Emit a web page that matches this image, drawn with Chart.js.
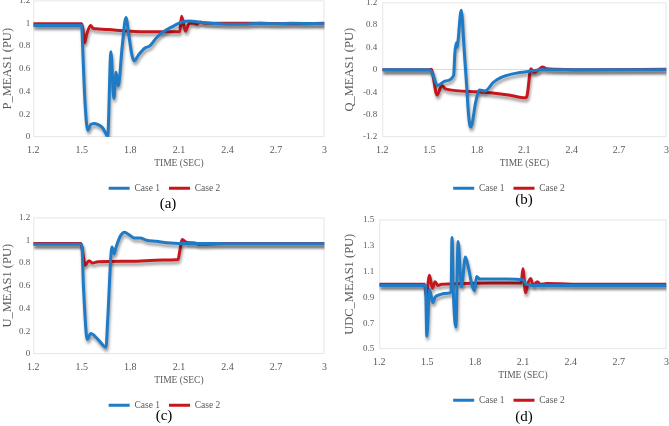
<!DOCTYPE html>
<html>
<head>
<meta charset="utf-8">
<script src="https://cdn.jsdelivr.net/npm/chart.js@4.4.0/dist/chart.umd.min.js"></script>
<style>
  body { margin: 0; background: #fff; width: 669px; height: 426px; position: relative; overflow: hidden; }
  .panel { position: absolute; }
  .cap { position: absolute; font-family: "Liberation Serif", serif; font-size: 15px; color: #000; text-align: center; width: 40px; }
</style>
</head>
<body>
<div class="panel" style="left:0;top:-8px"><canvas id="chartA" width="334" height="211"></canvas></div>
<div class="panel" style="left:334px;top:-8px"><canvas id="chartB" width="342" height="211"></canvas></div>
<div class="panel" style="left:0;top:209px"><canvas id="chartC" width="334" height="211"></canvas></div>
<div class="panel" style="left:334px;top:209px"><canvas id="chartD" width="342" height="206"></canvas></div>
<div class="cap" style="left:148px;top:195px">(a)</div>
<div class="cap" style="left:504px;top:191px">(b)</div>
<div class="cap" style="left:144px;top:407px">(c)</div>
<div class="cap" style="left:504px;top:408px">(d)</div>

<script>
const xTicks = [1.2, 1.5, 1.8, 2.1, 2.4, 2.7, 3];
const seriesNames = ["Case 1", "Case 2"];

// (a) P_MEAS1
const aTime1 = [1.2, 1.5, 1.505, 1.52, 1.537, 1.555, 1.575, 1.6, 1.63, 1.66, 1.68, 1.698, 1.712, 1.725, 1.75, 1.773, 1.79, 1.81, 1.825, 1.85, 1.888, 1.92, 1.96, 2.0, 2.06, 2.12, 2.17, 2.22, 2.3, 2.4, 2.5, 2.6, 2.7, 2.8, 3.0];
const aCase1 = [0.98, 0.98, 0.8, 0.3, 0.06, 0.11, 0.12, 0.11, 0.08, 0.01, 0.75, 0.34, 0.57, 0.45, 0.8, 1.05, 0.9, 0.72, 0.67, 0.72, 0.78, 0.8, 0.87, 0.92, 0.97, 1.01, 1.02, 1.01, 1.0, 0.99, 0.99, 1.0, 0.995, 1.0, 0.995];
const aTime2 = [1.2, 1.5, 1.508, 1.517, 1.53, 1.554, 1.57, 1.6, 1.7, 1.8, 1.9, 2.0, 2.105, 2.117, 2.14, 2.165, 2.19, 2.21, 2.23, 2.26, 2.4, 2.6, 2.8, 3.0];
const aCase2 = [0.995, 0.995, 0.93, 0.83, 0.9, 0.98, 0.955, 0.95, 0.94, 0.93, 0.925, 0.925, 0.925, 1.06, 0.93, 1.0, 1.0, 0.99, 1.01, 1.0, 1.0, 1.0, 0.995, 1.0];
const aYTicks = [0, 0.2, 0.4, 0.6, 0.8, 1, 1.2];

// (b) Q_MEAS1
const bTime1 = [1.2, 1.5, 1.515, 1.55, 1.6, 1.652, 1.66, 1.669, 1.674, 1.68, 1.7, 1.72, 1.735, 1.745, 1.758, 1.77, 1.79, 1.817, 1.85, 1.905, 1.95, 1.99, 2.05, 2.1, 2.15, 2.2, 2.4, 2.6, 3.0];
const bCase1 = [0.0, 0.0, -0.05, -0.28, -0.2, -0.1, 0.3, 0.48, 0.4, 0.52, 1.06, 0.3, -0.3, -0.75, -1.02, -0.95, -0.6, -0.36, -0.38, -0.22, -0.14, -0.1, -0.06, -0.04, -0.02, 0.0, 0.0, 0.0, 0.0];
const bTime2 = [1.2, 1.5, 1.51, 1.547, 1.578, 1.6, 1.8, 2.0, 2.106, 2.117, 2.142, 2.16, 2.19, 2.214, 2.24, 2.3, 2.5, 3.0];
const bCase2 = [0.0, 0.0, 0.01, -0.45, -0.28, -0.34, -0.39, -0.45, -0.5, -0.46, 0.02, -0.05, 0.0, 0.05, 0.02, 0.01, 0.0, 0.01];
const bYTicks = [-1.2, -0.8, -0.4, 0, 0.4, 0.8, 1.2];

// (c) U_MEAS1
const cTime1 = [1.2, 1.5, 1.51, 1.534, 1.555, 1.6, 1.65, 1.66, 1.687, 1.7, 1.712, 1.74, 1.765, 1.79, 1.825, 1.86, 1.9, 1.96, 2.05, 2.15, 2.3, 2.5, 3.0];
const cCase1 = [0.964, 0.964, 0.6, 0.13, 0.18, 0.13, 0.06, 0.3, 0.94, 0.88, 0.94, 1.04, 1.07, 1.05, 1.02, 1.02, 1.0, 0.99, 0.975, 0.97, 0.97, 0.968, 0.968];
const cTime2 = [1.2, 1.495, 1.51, 1.52, 1.545, 1.565, 1.6, 1.8, 2.0, 2.095, 2.105, 2.12, 2.15, 2.2, 2.22, 2.4, 3.0];
const cCase2 = [0.97, 0.97, 0.85, 0.78, 0.82, 0.8, 0.81, 0.815, 0.825, 0.83, 0.9, 1.005, 0.98, 0.975, 0.965, 0.97, 0.97];
const cYTicks = [0, 0.2, 0.4, 0.6, 0.8, 1, 1.2];

// (d) UDC_MEAS1
const dTime1 = [1.2, 1.49, 1.498, 1.515, 1.536, 1.55, 1.58, 1.63, 1.65, 1.656, 1.664, 1.68, 1.694, 1.715, 1.74, 1.76, 1.78, 1.797, 1.81, 1.83, 1.9, 2.0, 2.1, 2.12, 2.2, 2.5, 3.0];
const dCase1 = [0.99, 0.99, 0.6, 0.96, 0.86, 0.9, 0.92, 0.93, 0.94, 1.36, 0.95, 0.67, 1.33, 0.98, 1.21, 1.12, 1.0, 0.95, 1.06, 1.04, 1.04, 1.04, 1.035, 1.0, 0.99, 0.99, 0.99];
const dTime2 = [1.2, 1.485, 1.494, 1.515, 1.533, 1.55, 1.567, 1.59, 1.7, 1.9, 2.09, 2.1, 2.117, 2.13, 2.149, 2.165, 2.19, 2.21, 2.25, 2.5, 3.0];
const dCase2 = [1.0, 1.0, 0.91, 1.07, 0.97, 1.02, 0.99, 1.0, 1.005, 1.01, 1.01, 1.12, 0.935, 1.0, 1.045, 0.99, 1.02, 1.0, 1.005, 1.0, 1.0];
const dYTicks = [0.5, 0.7, 0.9, 1.1, 1.3, 1.5];

const BLUE = "#1f7bc6";
const RED = "#c8171c";
const TXT = "#595959";
const FONT = "'Liberation Serif', 'Times New Roman', serif";

// Excel-like drop shadow under the lines + faint plot frame
const shadowPlugin = {
  id: "shadow",
  beforeDraw(chart) {
    const a = chart.chartArea, ctx = chart.ctx;
    ctx.save();
    ctx.strokeStyle = "#e6e6e6";
    ctx.lineWidth = 1;
    ctx.strokeRect(a.left + 0.5, a.top + 0.5, a.right - a.left - 1, a.bottom - a.top - 1);
    ctx.restore();
  },
  beforeDatasetDraw(chart) {
    const ctx = chart.ctx;
    ctx.save();
    ctx.shadowColor = "rgba(0,0,0,0.4)";
    ctx.shadowBlur = 3;
    ctx.shadowOffsetX = 1;
    ctx.shadowOffsetY = 3;
  },
  afterDatasetDraw(chart) {
    chart.ctx.restore();
  }
};

function pts(xs, ys) {
  return xs.map((x, i) => ({ x: x, y: ys[i] }));
}

function makePanel(id, yTitle, t1, v1, t2, v2, yTicks, pad, yTickPad, zeroLine) {
  const ctx = document.getElementById(id).getContext("2d");
  const line = (label, data, color) => ({
    label: label, data: data, borderColor: color, backgroundColor: color,
    borderWidth: 3, pointRadius: 0, pointStyle: "line",
    cubicInterpolationMode: "monotone"
  });
  return new Chart(ctx, {
    type: "line",
    data: {
      datasets: [
        line(seriesNames[0], pts(t1, v1), BLUE),
        line(seriesNames[1], pts(t2, v2), RED)
      ]
    },
    options: {
      responsive: false,
      animation: false,
      layout: { padding: pad },
      plugins: {
        legend: {
          position: "bottom",
          labels: { usePointStyle: true, pointStyleWidth: 21, padding: 9, color: TXT, font: { family: FONT, size: 9.5 } }
        },
        tooltip: { enabled: false }
      },
      scales: {
        x: {
          type: "linear",
          min: 1.2, max: 3,
          afterBuildTicks: s => { s.ticks = xTicks.map(v => ({ value: v })); },
          grid: { display: false, drawTicks: false },
          border: { display: false },
          ticks: { color: TXT, padding: 7, maxRotation: 0, callback: v => String(v), font: { family: FONT, size: 10 } },
          title: { display: true, text: "TIME (SEC)", color: TXT, padding: { top: -5, bottom: 5 }, font: { family: FONT, size: 9.5 } }
        },
        y: {
          min: yTicks[0], max: yTicks[yTicks.length - 1],
          afterBuildTicks: s => { s.ticks = yTicks.map(v => ({ value: v })); },
          grid: {
            drawTicks: false,
            color: c => (zeroLine && c.tick && c.tick.value === 0) ? "#dcdcdc" : "rgba(0,0,0,0)"
          },
          border: { display: false },
          ticks: { color: TXT, padding: yTickPad, callback: v => String(v), font: { family: FONT, size: 9 } },
          title: { display: true, text: yTitle, color: TXT, padding: { top: 0, bottom: 1 }, font: { family: FONT, size: 12.5 } }
        }
      }
    },
    plugins: [shadowPlugin]
  });
}

makePanel("chartA", "P_MEAS1 (PU)", aTime1, aCase1, aTime2, aCase2, aYTicks, { left: 0, right: 5, top: 0, bottom: 0 }, 3, false);
makePanel("chartB", "Q_MEAS1 (PU)", bTime1, bCase1, bTime2, bCase2, bYTicks, { left: 8, right: 0, top: 0, bottom: 0 }, 5, true);
makePanel("chartC", "U_MEAS1 (PU)", cTime1, cCase1, cTime2, cCase2, cYTicks, { left: 0, right: 5, top: 0, bottom: 0 }, 3, false);
makePanel("chartD", "UDC_MEAS1 (PU)", dTime1, dCase1, dTime2, dCase2, dYTicks, { left: 8, right: 0, top: 0, bottom: 0 }, 5, false);
</script>
</body>
</html>
